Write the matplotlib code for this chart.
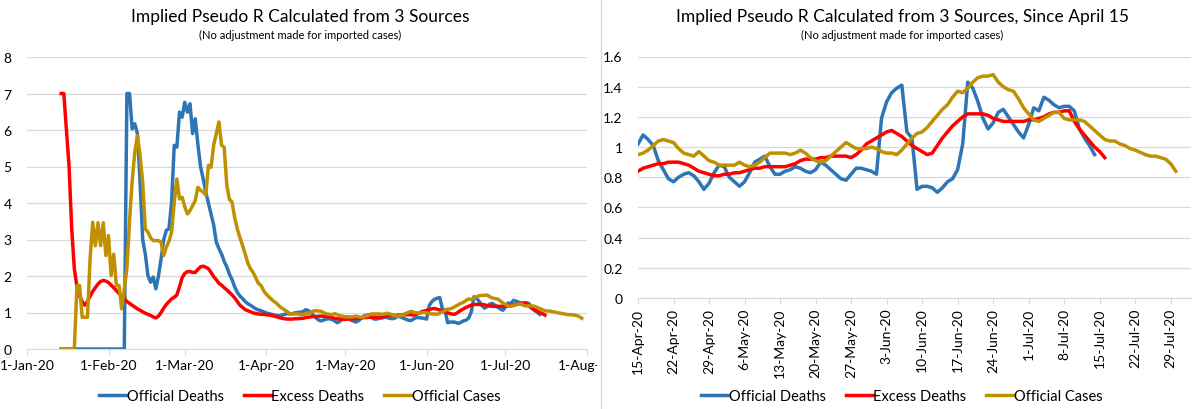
import pandas as pd
import matplotlib
matplotlib.use("Agg")
import matplotlib.pyplot as plt
import matplotlib.dates as mdates
from matplotlib.ticker import FuncFormatter
from matplotlib.lines import Line2D
from matplotlib.transforms import Bbox, TransformedBbox

plt.rcParams['font.family'] = ['Lato', 'DejaVu Sans']

# daily values, early part starts 14-Jan-20, late part starts 15-Apr-20
early_start = '2020-01-14'
late_start = '2020-04-15'

deaths_early = [0.0] * 25 + [
    7.0, 7.0, 6.03, 6.17, 5.9, 4.6, 3.0, 2.6, 2.01, 1.83,
    1.97, 1.65, 2.0, 2.47, 3.0, 3.25, 3.29, 4.02, 5.58, 5.53,
    6.49, 6.35, 6.76, 6.49, 6.72, 5.9, 6.31, 5.6, 5.0, 4.66,
    4.3, 4.0, 3.7, 3.4, 2.93, 2.75, 2.6, 2.4, 2.25, 2.05,
    1.9, 1.7, 1.55, 1.45, 1.38, 1.3, 1.24, 1.2, 1.15, 1.1,
    1.07, 1.05, 1.02, 0.99, 0.97, 0.95, 0.93, 0.92, 0.91, 0.93,
    0.95, 0.97, 0.96, 0.97, 0.99, 1.0, 1.01]
deaths_late = [
    1.02, 1.08, 1.05, 1.01, 0.91, 0.85, 0.79, 0.77, 0.80, 0.82,
    0.83, 0.81, 0.77, 0.72, 0.76, 0.83, 0.88, 0.87, 0.80, 0.77,
    0.74, 0.77, 0.83, 0.90, 0.92, 0.94, 0.87, 0.82, 0.82, 0.84,
    0.85, 0.87, 0.86, 0.84, 0.83, 0.85, 0.90, 0.88, 0.85, 0.82,
    0.79, 0.78, 0.82, 0.86, 0.86, 0.85, 0.84, 0.82, 1.19, 1.30,
    1.36, 1.39, 1.41, 1.10, 1.06, 0.72, 0.74, 0.74, 0.73, 0.70,
    0.73, 0.77, 0.79, 0.85, 1.02, 1.43, 1.39, 1.30, 1.19, 1.12,
    1.16, 1.23, 1.25, 1.20, 1.15, 1.10, 1.06, 1.15, 1.26, 1.24,
    1.33, 1.31, 1.28, 1.26, 1.27, 1.27, 1.24, 1.12, 1.06, 1.01,
    0.95]

excess_early = [
    7.0, 7.0, 6.0, 5.0, 3.3, 2.2, 1.7, 1.45, 1.3, 1.2,
    1.3, 1.45, 1.58, 1.68, 1.78, 1.85, 1.88, 1.86, 1.82, 1.75,
    1.68, 1.6, 1.52, 1.45, 1.38, 1.3, 1.25, 1.2, 1.15, 1.1,
    1.06, 1.02, 0.98, 0.95, 0.92, 0.88, 0.85, 0.9, 1.0, 1.12,
    1.22, 1.3, 1.37, 1.42, 1.48, 1.7, 1.95, 2.07, 2.12, 2.12,
    2.1, 2.1, 2.18, 2.25, 2.27, 2.24, 2.2, 2.1, 1.98, 1.9,
    1.8, 1.75, 1.68, 1.62, 1.55, 1.48, 1.4, 1.3, 1.2, 1.14,
    1.08, 1.05, 1.02, 0.99, 0.97, 0.96, 0.95, 0.95, 0.94, 0.93,
    0.92, 0.9, 0.88, 0.86, 0.84, 0.83, 0.82, 0.82, 0.82, 0.83,
    0.83, 0.84]
excess_late = [
    0.84, 0.86, 0.87, 0.88, 0.89, 0.89, 0.90, 0.90, 0.90, 0.89,
    0.88, 0.86, 0.84, 0.83, 0.82, 0.81, 0.81, 0.82, 0.82, 0.83,
    0.83, 0.84, 0.85, 0.86, 0.86, 0.87, 0.87, 0.87, 0.87, 0.87,
    0.88, 0.89, 0.91, 0.92, 0.92, 0.92, 0.93, 0.93, 0.94, 0.94,
    0.94, 0.94, 0.93, 0.95, 0.98, 1.02, 1.04, 1.06, 1.08, 1.10,
    1.11, 1.09, 1.07, 1.04, 1.01, 0.99, 0.97, 0.95, 0.96, 1.01,
    1.06, 1.10, 1.14, 1.17, 1.20, 1.22, 1.22, 1.22, 1.22, 1.21,
    1.19, 1.18, 1.17, 1.17, 1.17, 1.17, 1.17, 1.18, 1.18, 1.19,
    1.20, 1.22, 1.23, 1.23, 1.24, 1.24, 1.17, 1.12, 1.08, 1.04,
    1.00, 0.97, 0.93]

cases_early = [0.0] * 6 + [
    1.74, 1.74, 0.87, 0.87, 0.87, 2.47, 3.47, 2.83, 3.46, 2.83,
    3.46, 2.56, 3.11, 2.01, 2.6, 1.74, 1.74, 1.1, 1.65, 2.2,
    3.5, 4.6, 5.39, 5.85, 5.3, 4.57, 3.29, 3.2, 3.05, 2.97,
    2.97, 2.97, 2.93, 2.56, 2.79, 2.95, 3.2, 4.02, 4.66, 4.11,
    4.16, 3.9, 3.7, 3.79, 3.93, 4.07, 4.43, 4.35, 4.3, 4.22,
    5.03, 4.98, 5.58, 5.9, 6.22, 5.58, 5.53, 4.48, 4.1, 4.02,
    3.6, 3.29, 3.05, 2.83, 2.6, 2.35, 2.2, 2.1, 1.95, 1.8,
    1.74, 1.6, 1.5, 1.43, 1.36, 1.3, 1.25, 1.17, 1.12, 1.07,
    1.02, 0.97, 0.96, 0.96, 0.96, 0.95]
cases_late = [
    0.95, 0.96, 0.98, 1.01, 1.04, 1.05, 1.04, 1.03, 0.99, 0.96,
    0.95, 0.94, 0.97, 0.94, 0.91, 0.90, 0.88, 0.88, 0.88, 0.88,
    0.90, 0.88, 0.87, 0.88, 0.90, 0.93, 0.96, 0.96, 0.96, 0.96,
    0.95, 0.96, 0.98, 0.96, 0.93, 0.91, 0.90, 0.91, 0.94, 0.97,
    1.00, 1.03, 1.01, 0.99, 0.99, 0.99, 1.00, 0.99, 0.97, 0.96,
    0.96, 0.95, 0.98, 1.02, 1.06, 1.09, 1.10, 1.13, 1.17, 1.21,
    1.25, 1.28, 1.33, 1.37, 1.36, 1.39, 1.43, 1.46, 1.47, 1.47,
    1.48, 1.43, 1.40, 1.38, 1.37, 1.32, 1.26, 1.22, 1.18, 1.17,
    1.19, 1.21, 1.23, 1.23, 1.19, 1.18, 1.18, 1.18, 1.17, 1.14,
    1.11, 1.08, 1.05, 1.04, 1.04, 1.02, 1.01, 0.99, 0.98, 0.965,
    0.95, 0.94, 0.94, 0.93, 0.92, 0.89, 0.84]

labels = ['Official Deaths', 'Excess Deaths', 'Official Cases']
colors = ['#2E75B6', '#FF0000', '#BF9000']
titles = ['Implied Pseudo R Calculated from 3 Sources',
          'Implied Pseudo R Calculated from 3 Sources, Since April 15']
subtitle = '(No adjustment made for imported cases)'


def make_series(early, late):
    s1 = pd.Series(early, index=pd.date_range(early_start, periods=len(early), freq='D'))
    s2 = pd.Series(late, index=pd.date_range(late_start, periods=len(late), freq='D'))
    return pd.concat([s1, s2])


series = [make_series(deaths_early, deaths_late),
          make_series(excess_early, excess_late),
          make_series(cases_early, cases_late)]

W, H = 1200, 410
fig = plt.figure(figsize=(12, 4.1), dpi=100)


def px_axes(x0, x1, ytop, ybot):
    return fig.add_axes([x0 / W, 1 - ybot / H, (x1 - x0) / W, (ybot - ytop) / H])


def date_label(x, pos=None):
    d = mdates.num2date(x)
    return f"{d.day}-{d.strftime('%b-%y')}"


def style_axes(ax):
    for side in ['top', 'right', 'left']:
        ax.spines[side].set_visible(False)
    ax.spines['bottom'].set_color('#D9D9D9')
    ax.grid(axis='y', color='#D9D9D9', lw=0.9)
    ax.set_axisbelow(True)
    ax.tick_params(axis='y', length=0, pad=11, labelsize=10)
    ax.tick_params(axis='x', length=4, color='#D9D9D9', labelsize=10, pad=3)
    ax.yaxis.set_major_formatter(FuncFormatter(lambda v, p: f'{v:g}'))
    ax.xaxis.set_major_formatter(FuncFormatter(date_label))


# left chart: whole period
ax1 = px_axes(27, 587, 58, 350)
for s, c, l in zip(series, colors, labels):
    ax1.plot(s.index, s.values, color=c, lw=2.5, label=l, solid_joinstyle='round')
ax1.set_xlim(pd.Timestamp('2020-01-01'), pd.Timestamp('2020-08-01'))
ax1.set_ylim(0, 8)
ax1.set_yticks(range(0, 9))
ax1.set_xticks(pd.date_range('2020-01-01', '2020-08-01', freq='MS'))
style_axes(ax1)

# the left chart area ends at the border, the last date label is cut there
left_box = TransformedBbox(Bbox([[0, 0], [597 / W, 1]]), fig.transFigure)
for lab in ax1.get_xticklabels():
    lab.set_clip_box(left_box)
    lab.set_clip_on(True)

# right chart: since April 15
ax2 = px_axes(638, 1191, 57.5, 299)
for s, c, l in zip(series, colors, labels):
    part = s[s.index >= pd.Timestamp(late_start)]
    ax2.plot(part.index, part.values, color=c, lw=2.5, label=l, solid_joinstyle='round')
ax2.set_xlim(pd.Timestamp('2020-04-15'), pd.Timestamp('2020-08-02'))
ax2.set_ylim(0, 1.6)
ax2.set_yticks([0, 0.2, 0.4, 0.6, 0.8, 1.0, 1.2, 1.4, 1.6])
ax2.set_xticks(pd.date_range('2020-04-15', '2020-07-29', freq='7D'))
style_axes(ax2)
plt.setp(ax2.get_xticklabels(), rotation=90)

for ax, cx, t in [(ax1, 300, titles[0]), (ax2, 902, titles[1])]:
    fig.text(cx / W, 1 - 17 / H, t, ha='center', va='center', fontsize=12.5)
    fig.text(cx / W, 1 - 35 / H, subtitle, ha='center', va='center', fontsize=8)
    ax.legend(loc='center', bbox_to_anchor=(cx / W, 1 - 397 / H), bbox_transform=fig.transFigure,
              ncol=3, frameon=False, fontsize=10.5, handlelength=1.85, handletextpad=0.05,
              columnspacing=1.35, borderaxespad=0)

# border between the two charts
fig.add_artist(Line2D([601 / W, 601 / W], [0, 1], color='#D9D9D9', lw=1))

fig.savefig('out.png', dpi=100)
